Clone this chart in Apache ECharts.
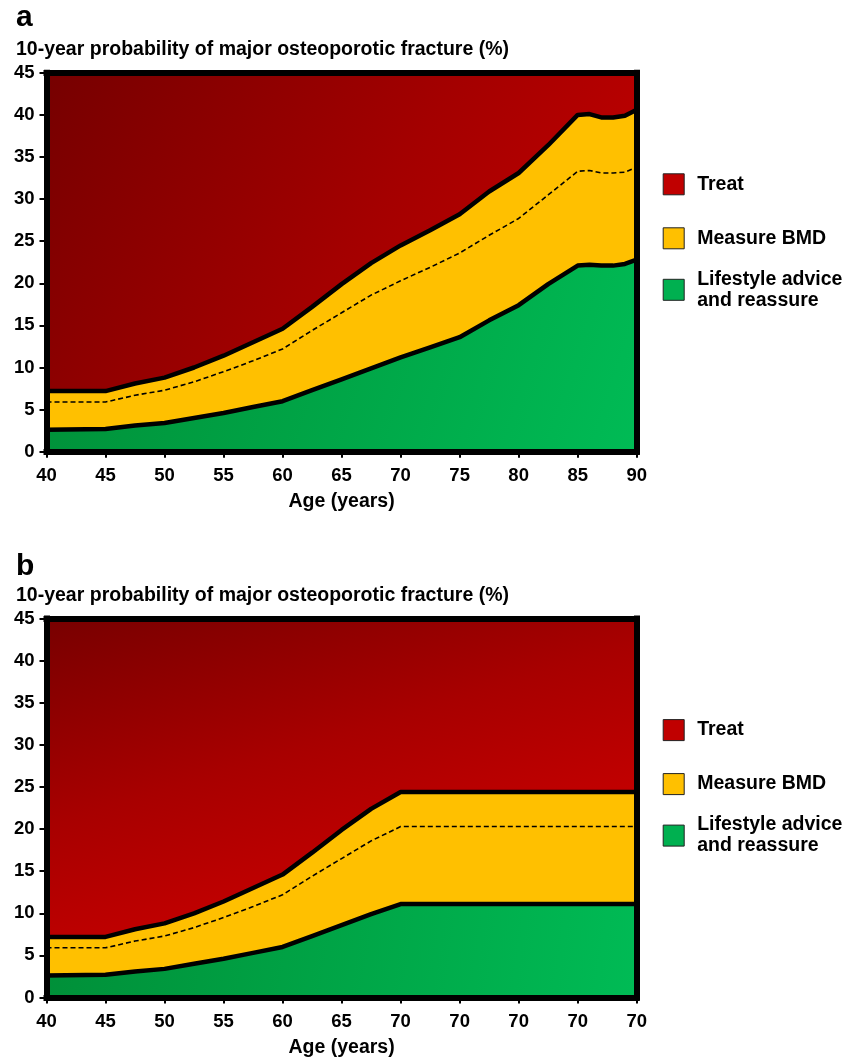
<!DOCTYPE html>
<html><head><meta charset="utf-8">
<script src="https://cdn.jsdelivr.net/npm/echarts@6/dist/echarts.min.js"></script>
<style>html,body{margin:0;padding:0;background:#fff}#c{width:857px;height:1060px}</style>
</head><body><div id="c"></div>
<script>
// ---- Data ----
const yTicksMax = 45;
const xMin = 40, xMax = 90;

// Panel a
const agesA   = [40, 45, 47.5, 50, 52.5, 55, 57.5, 60, 62.5, 65, 67.5, 70, 72.5, 75, 77.5, 80, 82.5, 85, 86, 87, 88, 89, 90];
const upperA  = [7.2, 7.2, 8.1, 8.8, 10.0, 11.4, 13.0, 14.6, 17.2, 19.9, 22.4, 24.5, 26.3, 28.2, 30.9, 33.1, 36.4, 40.0, 40.1, 39.7, 39.7, 39.9, 40.6];
const dashedA = [5.9, 5.9, 6.7, 7.3, 8.3, 9.5, 10.8, 12.2, 14.4, 16.5, 18.6, 20.3, 21.9, 23.6, 25.7, 27.7, 30.5, 33.3, 33.4, 33.1, 33.1, 33.2, 33.8];
const lowerA  = [2.6, 2.7, 3.1, 3.4, 4.0, 4.6, 5.3, 6.0, 7.3, 8.6, 9.9, 11.2, 12.4, 13.6, 15.6, 17.4, 19.9, 22.1, 22.2, 22.1, 22.1, 22.3, 22.8];
const xLabelsA = ['40', '45', '50', '55', '60', '65', '70', '75', '80', '85', '90'];

// Panel b
const agesB   = [40, 45, 47.5, 50, 52.5, 55, 57.5, 60, 62.5, 65, 67.5, 70, 90];
const upperB  = [7.2, 7.2, 8.1, 8.8, 10.0, 11.4, 13.0, 14.6, 17.2, 19.9, 22.4, 24.4, 24.4];
const dashedB = [5.9, 5.9, 6.7, 7.3, 8.3, 9.5, 10.8, 12.2, 14.4, 16.5, 18.6, 20.3, 20.3];
const lowerB  = [2.6, 2.7, 3.1, 3.4, 4.0, 4.6, 5.3, 6.0, 7.3, 8.6, 9.9, 11.1, 11.1];
const xLabelsB = ['40', '45', '50', '55', '60', '65', '70', '70', '70', '70', '70'];

const seriesNames = ['Treat', 'Measure BMD', 'Lifestyle advice and reassure'];
const yTitle = '10-year probability of major osteoporotic fracture (%)';
const xTitle = 'Age (years)';
const panelLetters = ['a', 'b'];

// ---- Styling ----
const FONT = 'Liberation Sans, Arial, Helvetica, sans-serif';
const G = echarts.graphic.LinearGradient;
const redA = new G(0, 0, 1, 1, [{offset: 0, color: '#760000'}, {offset: 0.5, color: '#a40000'}, {offset: 1, color: '#cc0000'}]);
const redB = new G(0, 0, 0.2, 1, [{offset: 0, color: '#780000'}, {offset: 0.5, color: '#a80000'}, {offset: 1, color: '#cc0000'}]);
const greenGrad = () => new G(0, 0, 1, 1, [{offset: 0, color: '#008f38'}, {offset: 1, color: '#00bb55'}]);
const YELLOW = '#ffc000';
const pair = (xs, ys) => xs.map((x, i) => [x, ys[i]]);

const panels = [
  {ages: agesA, upper: upperA, dashed: dashedA, lower: lowerA, labels: xLabelsA, red: redA, off: 0},
  {ages: agesB, upper: upperB, dashed: dashedB, lower: lowerB, labels: xLabelsB, red: redB, off: 545.8}
];

const option = {
  animation: false,
  backgroundColor: '#fff',
  textStyle: {fontFamily: FONT},
  title: [], grid: [], xAxis: [], yAxis: [], series: [], legend: []
};

panels.forEach((p, i) => {
  option.title.push({text: panelLetters[i], left: 11, top: p.off + (i ? 1 : -2),
    textStyle: {fontFamily: FONT, fontSize: 30, fontWeight: 'bold', color: '#000'}});
  option.title.push({text: yTitle, left: 11, top: p.off + 35,
    textStyle: {fontFamily: FONT, fontSize: 19.5, fontWeight: 'bold', color: '#000'}});

  option.grid.push({left: 46.5, top: p.off + 72.8, width: 590.2, height: 378.9, containLabel: false});

  const frame = {show: true, onZero: false, lineStyle: {color: '#000', width: 6, cap: 'square'}};
  option.xAxis.push({
    type: 'value', gridIndex: i, min: xMin, max: xMax, interval: 5, z: 10,
    axisLine: frame,
    axisTick: {show: true, length: 6, lineStyle: {color: '#000', width: 2}},
    axisLabel: {margin: 15, color: '#000', fontFamily: FONT, fontSize: 18.5, fontWeight: 'bold',
      formatter: v => p.labels[Math.round((v - xMin) / 5)]},
    splitLine: {show: false},
    name: xTitle, nameLocation: 'middle', nameGap: 40,
    nameTextStyle: {color: '#000', fontFamily: FONT, fontSize: 19.5, fontWeight: 'bold'}
  });
  option.xAxis.push({
    type: 'value', gridIndex: i, min: xMin, max: xMax, position: 'top', z: 10,
    axisLine: frame, axisTick: {show: false}, axisLabel: {show: false}, splitLine: {show: false}
  });
  option.yAxis.push({
    type: 'value', gridIndex: i, min: 0, max: yTicksMax, interval: 5, z: 10,
    axisLine: frame,
    axisTick: {show: true, length: 7, lineStyle: {color: '#000', width: 2}},
    axisLabel: {margin: 12, color: '#000', fontFamily: FONT, fontSize: 18.5, fontWeight: 'bold'},
    splitLine: {show: false}
  });
  option.yAxis.push({
    type: 'value', gridIndex: i, min: 0, max: yTicksMax, position: 'right', z: 10,
    axisLine: frame, axisTick: {show: false}, axisLabel: {show: false}, splitLine: {show: false}
  });

  const ax = {xAxisIndex: 2 * i, yAxisIndex: 2 * i};
  option.series.push(Object.assign({
    name: seriesNames[0], type: 'line', symbol: 'none', z: 1,
    data: [[xMin, yTicksMax], [xMax, yTicksMax]],
    lineStyle: {width: 0}, areaStyle: {color: p.red, opacity: 1}
  }, ax));
  option.series.push(Object.assign({
    name: seriesNames[1], type: 'line', symbol: 'none', z: 2,
    data: pair(p.ages, p.upper),
    lineStyle: {color: '#000', width: 4.5}, areaStyle: {color: YELLOW, opacity: 1}
  }, ax));
  option.series.push(Object.assign({
    name: seriesNames[2], type: 'line', symbol: 'none', z: 3,
    data: pair(p.ages, p.lower),
    lineStyle: {color: '#000', width: 4.5}, areaStyle: {color: greenGrad(), opacity: 1}
  }, ax));
  option.series.push(Object.assign({
    name: 'Intervention threshold', type: 'line', symbol: 'none', z: 4,
    data: pair(p.ages, p.dashed),
    lineStyle: {color: '#000', width: 1.6, type: [5, 3]}
  }, ax));

  const legTxt = {color: '#000', fontFamily: FONT, fontSize: 19.5, fontWeight: 'bold', lineHeight: 21};
  const iconStyle = c => ({color: c, borderColor: '#222', borderWidth: 1});
  option.legend.push({
    orient: 'vertical', left: 662.7, top: p.off + 173.3, padding: 0, itemGap: 32,
    itemWidth: 21, itemHeight: 21, icon: 'rect', selectedMode: false,
    textStyle: Object.assign({padding: [0, 0, 0, 8]}, legTxt),
    data: [
      {name: seriesNames[0], icon: 'rect', itemStyle: iconStyle('#c00000')},
      {name: seriesNames[1], icon: 'rect', itemStyle: iconStyle('#ffc000')}
    ]
  });
  option.legend.push({
    orient: 'vertical', left: 662.7, top: p.off + 279.3 - 21, padding: 0,
    itemWidth: 21, itemHeight: 21, icon: 'rect', selectedMode: false,
    textStyle: Object.assign({padding: [21, 0, 0, 8]}, legTxt),
    formatter: () => 'Lifestyle advice\nand reassure',
    data: [{name: seriesNames[2], icon: 'rect', itemStyle: iconStyle('#00b050')}]
  });
});

const chart = echarts.init(document.getElementById('c'), null, {renderer: 'canvas'});
chart.setOption(option);
</script></body></html>
